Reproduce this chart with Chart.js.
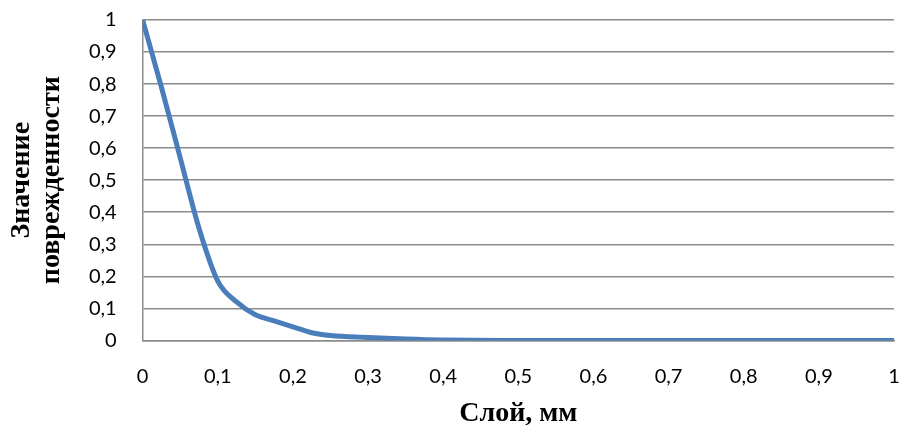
<!DOCTYPE html>
<html>
<head>
<meta charset="utf-8">
<script src="https://cdn.jsdelivr.net/npm/chart.js@4.4.0/dist/chart.umd.min.js"></script>
<style>
    html, body { margin: 0; padding: 0; background: #ffffff; }
    .chart_box { width: 901px; height: 435px; }
</style>
</head>
<body>
<div class="chart_box"><canvas class="damage_canvas"></canvas></div>
<script>
// слой, мм
const layers = [0, 0.025, 0.05, 0.075, 0.1, 0.125, 0.15, 0.175, 0.2, 0.225, 0.25, 0.3, 0.35, 0.4, 0.5, 0.6, 0.7, 0.8, 0.9, 1];
// значение поврежденности
const damage = [1, 0.79, 0.57, 0.35, 0.185, 0.12, 0.08, 0.061, 0.042, 0.024, 0.015, 0.009, 0.004, 0.001, 0, 0, 0, 0, 0, 0];
const xTitle = 'Слой, мм';
const yTitle = ['Значение', 'поврежденности'];

function commaNum(v) {
    return String(Number(v.toFixed(1))).replace('.', ',');
}

window.onload = function() {
    const ctx = document.querySelector(".damage_canvas");
    const points = layers.map(function(x, i) { return {x: x, y: damage[i]}; });
    const damage_canvas = new Chart(ctx, {
        type: 'line',
        data: {
            datasets: [{
                data: points,
                borderColor: '#4a7ebb',
                borderWidth: 5,
                pointRadius: 0,
                cubicInterpolationMode: 'monotone',
                fill: false
            }]
        },
        options: {
            responsive: true,
            maintainAspectRatio: false,
            animation: false,
            layout: { padding: { left: 7, right: 7, top: 20, bottom: 4 } },
            plugins: {
                legend: { display: false },
                tooltip: { enabled: false }
            },
            scales: {
                x: {
                    type: 'linear',
                    min: 0,
                    max: 1,
                    // no vertical grid, only the tick gap
                    grid: { color: 'rgba(0,0,0,0)', tickColor: 'rgba(0,0,0,0)', tickLength: 24 },
                    border: { display: true, color: '#8c8c8c', width: 1.5 },
                    ticks: {
                        stepSize: 0.1,
                        padding: 0,
                        color: '#000000',
                        font: { family: 'Lato', size: 20 },
                        maxRotation: 0,
                        callback: function(v) { return commaNum(v); }
                    },
                    title: {
                        display: true,
                        text: xTitle,
                        color: '#000000',
                        font: { family: 'Liberation Serif', size: 28, weight: 'bold' },
                        padding: { top: 9, bottom: 0 }
                    }
                },
                y: {
                    min: 0,
                    max: 1,
                    grid: { color: '#8c8c8c', lineWidth: 1.5, tickColor: 'rgba(0,0,0,0)', tickLength: 26 },
                    border: { display: true, color: '#8c8c8c', width: 1.5 },
                    ticks: {
                        stepSize: 0.1,
                        padding: 0,
                        color: '#000000',
                        font: { family: 'Lato', size: 20 },
                        callback: function(v) { return commaNum(v); }
                    },
                    title: {
                        display: true,
                        text: yTitle,
                        color: '#000000',
                        font: { family: 'Liberation Serif', size: 28, weight: 'bold', lineHeight: 1.07 },
                        padding: { top: 0, bottom: 22 }
                    }
                }
            }
        }
    });
}
</script>
</body>
</html>
